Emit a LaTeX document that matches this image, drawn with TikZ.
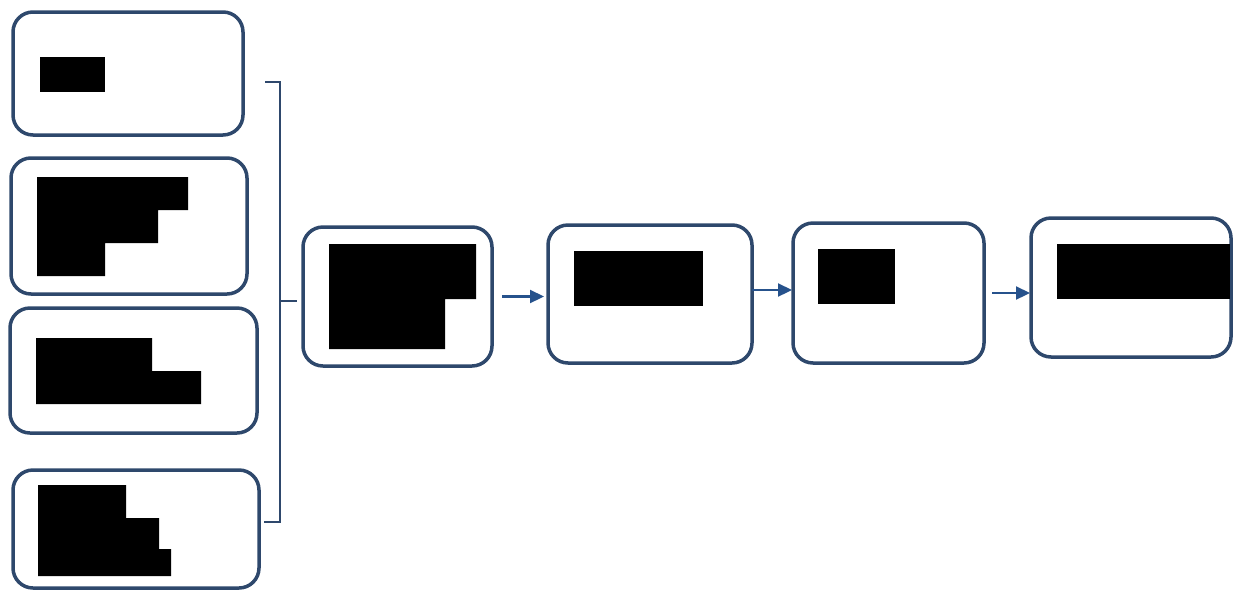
\documentclass[tikz,border=0pt]{standalone}
\usetikzlibrary{arrows.meta}
\definecolor{boxblue}{RGB}{46,72,108}
\definecolor{arrowblue}{RGB}{38,82,140}
\begin{document}
\begin{tikzpicture}[x=1pt,y=-1pt,
  card/.style={draw=boxblue,line width=3.5pt,rounded corners=20pt,fill=white,inner sep=0pt,outer sep=0pt},
  redact/.style={fill=black,draw=none},
  flow/.style={draw=arrowblue,line width=2.2pt,-{Triangle[length=14pt,width=13pt]}},
  brace/.style={draw=boxblue,line width=2.8pt}]
\useasboundingbox (0,0) rectangle (1233,590);
% boxes
\node[card,minimum width=230pt,minimum height=123pt] (A) at (128,73.5) {};
\node[card,minimum width=236pt,minimum height=136pt] (B) at (129,226) {};
\node[card,minimum width=247pt,minimum height=125pt] (C) at (133.5,370.5) {};
\node[card,minimum width=246pt,minimum height=118pt] (D) at (136,529) {};
\node[card,minimum width=189pt,minimum height=139pt] (E) at (397.5,296.5) {};
\node[card,minimum width=204pt,minimum height=138pt] (F) at (650,294) {};
\node[card,minimum width=191pt,minimum height=140pt] (G) at (888.5,293) {};
\node[card,minimum width=200pt,minimum height=139pt] (H) at (1131,287.5) {};
% redacted labels
\fill[redact] (40,57) rectangle (105,92);
\fill[redact] (37,177) -| (188,210) -| (158,243) -| (105,276) -| cycle;
\fill[redact] (36,338) -| (152,371) -| (201,404) -| cycle;
\fill[redact] (38,485) -| (126,518) -| (159,549) -| (171,576) -| cycle;
\fill[redact] (329,244) -| (476,299) -| (445,349) -| cycle;
\fill[redact] (574,251) rectangle (703,306);
\fill[redact] (818,249) rectangle (895,304);
\fill[redact] (1057,244) rectangle (1230,299);
% bracket
\coordinate (bt) at (265,82);
\coordinate (bb) at (264,522);
\coordinate (bm) at (280,301);
\draw[brace] (bt) -| (280,522) -- (bb);
\draw[brace] (bm) -- ([xshift=-6pt,yshift=-4.5pt]E.west);
% arrows
\draw[flow,shorten <=10pt,shorten >=4pt] (E.east) -- (E.east -| F.west);
\draw[flow,shorten >=1pt] ([yshift=4pt]F.east) -- ([yshift=4pt]F.east -| G.west);
\draw[flow,shorten <=8pt,shorten >=1pt] (G.east) -- (G.east -| H.west);
\end{tikzpicture}
\end{document}
